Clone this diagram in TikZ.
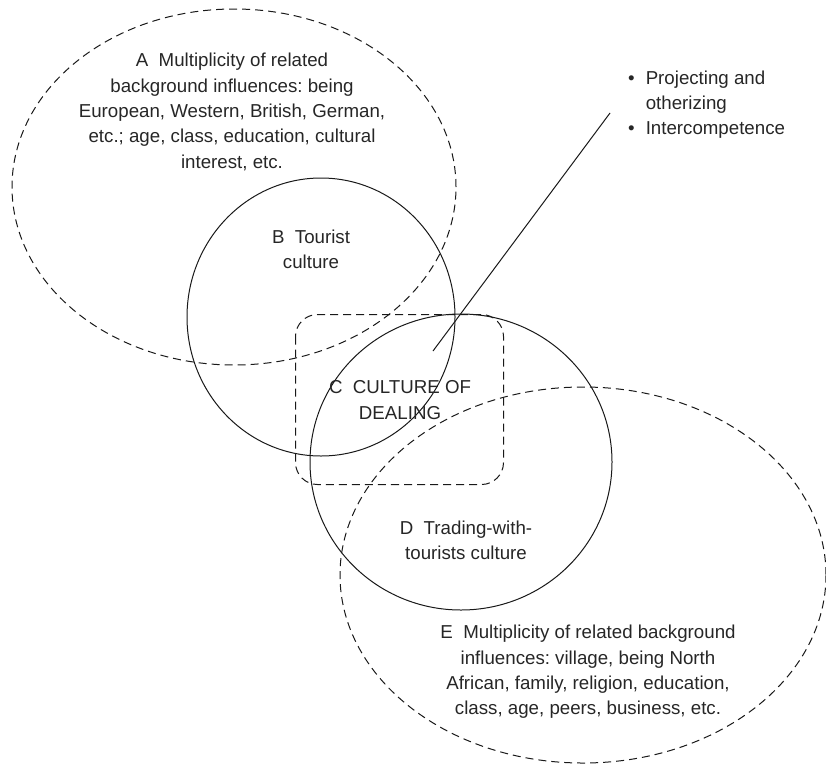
\documentclass[tikz,border=0pt]{standalone}
\usepackage{fontspec}
\setmainfont{Liberation Sans}
\frenchspacing
\begin{document}
\begin{tikzpicture}[x=1pt,y=-1pt,
        every node/.style={inner sep=0pt, align=center, text=black!85,
            font=\fontsize{18.7}{25.3}\selectfont},
        ring/.style={line width=1pt, black!90},
        zone/.style={ring, dash pattern=on 8pt off 5pt}]
    \useasboundingbox (0,0) rectangle (826,763);

    % background influences (dashed)
    \draw[zone] (234,187) ellipse [x radius=222pt, y radius=178pt];
    \draw[zone] (583,575) ellipse [x radius=243pt, y radius=188pt];

    % tourist culture and trading culture
    \draw[ring] (321,317) ellipse [x radius=134pt, y radius=139pt];
    \draw[ring] (461,462) ellipse [x radius=151pt, y radius=148pt];

    % culture of dealing
    \draw[zone, rounded corners=22pt] (295.5,314.5) rectangle (503.5,484.5);

    % labels
    \node (infA) at (232,112) {A\ \ Multiplicity of related\\
        background influences: being\\
        European, Western, British, German,\\
        etc.; age, class, education, cultural\\
        interest, etc.};
    \node (tour) at (311,249) {B\ \ Tourist\\ culture};
    \node (deal) at (400,400) {C\ \ CULTURE OF\\ DEALING};
    \node (trad) at (466,540) {D\ \ Trading-with-\\ tourists culture};
    \node (infE) at (588,672) {E\ \ Multiplicity of related background\\
        influences: village, being North\\
        African, family, religion, education,\\
        class, age, peers, business, etc.};

    % notes on dealing
    \node[anchor=base west] (notes) at (628,84) {\begin{tabular}[t]{@{}l@{\hspace{11pt}}l@{}}
        \textbullet & Projecting and\\
                    & otherizing\\
        \textbullet & Intercompetence
    \end{tabular}};
    \coordinate (lead) at (610,113);
    \coordinate (tip) at (433,351);
    \draw[ring] (lead) -- (tip);
\end{tikzpicture}
\end{document}
